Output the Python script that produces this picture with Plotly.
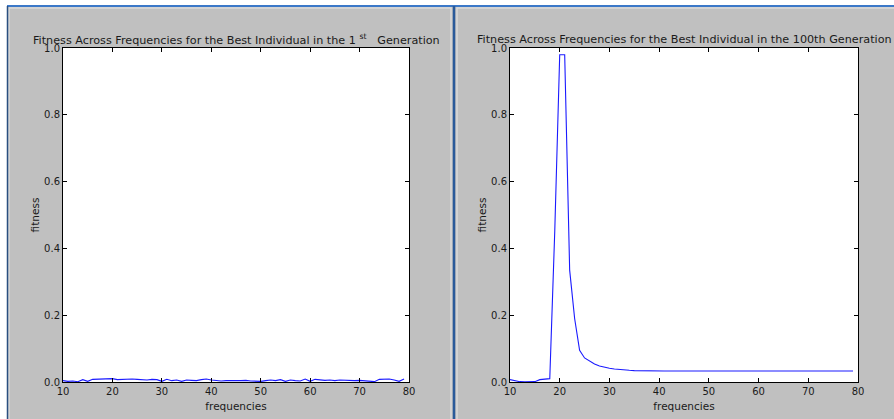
import plotly.graph_objects as go

W, H = 894, 419

freqs = list(range(10, 80))

gen1_fitness = [
    0.004, 0.002, 0.003, 0.001, 0.007, 0.002, 0.008, 0.009, 0.008, 0.009,
    0.010, 0.007, 0.008, 0.009, 0.009, 0.008, 0.007, 0.006, 0.008, 0.007,
    0.002, 0.008, 0.004, 0.006, 0.002, 0.006, 0.005, 0.004, 0.007, 0.009,
    0.006, 0.004, 0.003, 0.004, 0.005, 0.004, 0.004, 0.005, 0.003, 0.002,
    0.002, 0.004, 0.006, 0.004, 0.007, 0.002, 0.006, 0.004, 0.003, 0.009,
    0.002, 0.008, 0.006, 0.005, 0.006, 0.004, 0.006, 0.005, 0.006, 0.004,
    0.005, 0.003, 0.002, 0.001, 0.008, 0.009, 0.009, 0.006, 0.002, 0.009,
]

gen100_fitness = [
    0.007, 0.003, 0.001, 0.0005, 0.0005, 0.001, 0.007, 0.008, 0.010, 0.45,
    0.98, 0.98, 0.335, 0.19, 0.095, 0.072, 0.062, 0.054, 0.048, 0.044,
    0.041, 0.039, 0.037, 0.036, 0.035, 0.034, 0.0335, 0.033, 0.033, 0.033,
    0.033, 0.033, 0.033, 0.033, 0.033, 0.033, 0.033, 0.033, 0.033, 0.033,
    0.033, 0.033, 0.033, 0.033, 0.033, 0.033, 0.033, 0.033, 0.033, 0.033,
    0.033, 0.033, 0.033, 0.033, 0.033, 0.033, 0.033, 0.033, 0.033, 0.033,
    0.033, 0.033, 0.033, 0.033, 0.033, 0.033, 0.033, 0.033, 0.033, 0.033,
]

titles = [
    "Fitness Across Frequencies for the Best Individual in the 1 <sup>st</sup>   Generation",
    "Fitness Across Frequencies for the Best Individual in the 100th Generation",
]
x_title = "frequencies"
y_title = "fitness"
x_ticks = [10, 20, 30, 40, 50, 60, 70, 80]
y_ticks = [0.0, 0.2, 0.4, 0.6, 0.8, 1.0]

FONT = "DejaVu Sans"
GRAY = "#c0c0c0"
LINE = "#1a1aff"
TXT = "#1a1a1a"


def px(x):
    return x / W


def py(y):
    return 1 - y / H


fig = go.Figure()

fig.add_trace(go.Scatter(x=freqs, y=gen1_fitness, mode="lines",
                         line=dict(color=LINE, width=1.1), xaxis="x", yaxis="y",
                         showlegend=False, hoverinfo="skip"))
fig.add_trace(go.Scatter(x=freqs, y=gen100_fitness, mode="lines",
                         line=dict(color=LINE, width=1.1), xaxis="x2", yaxis="y2",
                         showlegend=False, hoverinfo="skip"))

ydom = [py(382), py(48)]
doms = [[px(63), px(409)], [px(510), px(858)]]

axis_common = dict(
    showgrid=False, zeroline=False, showline=True, linecolor="black", linewidth=1,
    mirror="ticks", ticks="inside", ticklen=4, tickcolor="black", automargin=False,
    tickfont=dict(family=FONT, size=10, color=TXT),
)
xt = dict(text=x_title, font=dict(family=FONT, size=10.5, color=TXT), standoff=6)
yt = dict(text=y_title, font=dict(family=FONT, size=10.5, color=TXT), standoff=2)

fig.update_layout(
    width=W, height=H,
    margin=dict(l=0, r=0, t=0, b=0, autoexpand=False),
    paper_bgcolor=GRAY,
    plot_bgcolor="white",
    font=dict(family=FONT, color=TXT),
    xaxis=dict(domain=doms[0], range=[10, 80], tickvals=x_ticks, anchor="y",
               title=xt, **axis_common),
    yaxis=dict(domain=ydom, range=[0, 1], tickvals=y_ticks, tickformat=".1f", anchor="x",
               title=yt, **axis_common),
    xaxis2=dict(domain=doms[1], range=[10, 80], tickvals=x_ticks, anchor="y2",
                title=xt, **axis_common),
    yaxis2=dict(domain=ydom, range=[0, 1], tickvals=y_ticks, tickformat=".1f", anchor="x2",
                title=yt, **axis_common),
)

shapes = []
# white area outside the windows (top strip and left strip)
shapes.append(dict(type="rect", xref="paper", yref="paper", layer="below",
                   x0=0, x1=1, y0=py(5), y1=1, fillcolor="white", line=dict(width=0)))
shapes.append(dict(type="rect", xref="paper", yref="paper", layer="below",
                   x0=0, x1=px(7), y0=0, y1=1, fillcolor="white", line=dict(width=0)))
# light inner bevels of the two windows
for (x0, x1) in [(7, 453), (455, 900)]:
    shapes.append(dict(type="rect", xref="paper", yref="paper", layer="below",
                       x0=px(x0 + 2), x1=px(x1 - 2), y0=py(430), y1=py(8),
                       fillcolor="rgba(0,0,0,0)", line=dict(color="#d9d9d9", width=1.5)))
# blue frame lines
shapes.append(dict(type="line", xref="paper", yref="paper", layer="below",
                   x0=px(7), x1=1, y0=py(6), y1=py(6),
                   line=dict(color="#3b78c8", width=2)))
shapes.append(dict(type="line", xref="paper", yref="paper", layer="below",
                   x0=px(7.5), x1=px(7.5), y0=py(6), y1=0,
                   line=dict(color="#2a4f80", width=1.5)))
shapes.append(dict(type="line", xref="paper", yref="paper", layer="below",
                   x0=px(454), x1=px(454), y0=py(6), y1=0,
                   line=dict(color="#2a5a9a", width=2.5)))
fig.update_layout(shapes=shapes)

annotations = []
for i, t in enumerate(titles):
    cx = (doms[i][0] + doms[i][1]) / 2
    annotations.append(dict(text=t, xref="paper", yref="paper", x=cx, y=py(39),
                            xanchor="center", yanchor="middle", showarrow=False,
                            font=dict(family=FONT, size=11.2, color=TXT)))
fig.update_layout(annotations=annotations)

fig.write_html("out.html",
               config={"displayModeBar": False, "staticPlot": True},
               post_script="document.body.style.margin='0';document.body.style.padding='0';document.body.style.overflow='hidden';")
